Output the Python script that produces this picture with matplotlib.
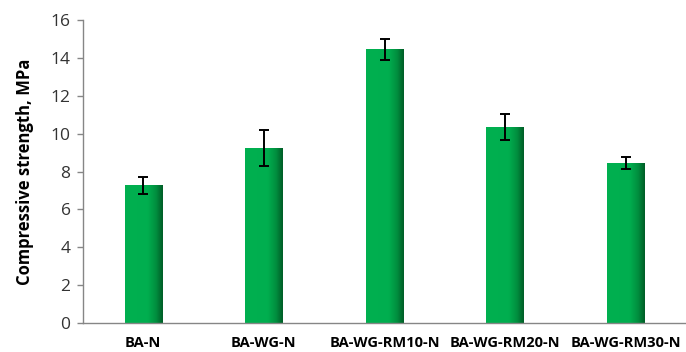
import numpy as np
import matplotlib.pyplot as plt
from matplotlib.colors import LinearSegmentedColormap

categories = ['BA-N', 'BA-WG-N', 'BA-WG-RM10-N', 'BA-WG-RM20-N', 'BA-WG-RM30-N']
strength = [7.27, 9.26, 14.45, 10.35, 8.45]
err = [0.43, 0.96, 0.56, 0.69, 0.33]
yticks = [0, 2, 4, 6, 8, 10, 12, 14, 16]

plt.rcParams['font.family'] = ['Open Sans', 'DejaVu Sans']

fig = plt.figure(figsize=(6.86, 3.52), dpi=100)
ax = fig.add_axes([0.121, 0.082, 0.879, 0.861])

x = np.arange(len(categories))
bars = ax.bar(x, strength, width=0.31, color='#00B050', zorder=2)

# shade each bar: flat green then darker toward the right edge
cmap = LinearSegmentedColormap.from_list('g', [(0, '#00B050'), (0.6, '#00AE4F'),
                                               (0.82, '#008F3F'), (1, '#005E27')])
grad = np.linspace(0, 1, 100).reshape(1, -1)
for b in bars:
    im = ax.imshow(grad, cmap=cmap, aspect='auto', zorder=2,
                   extent=[b.get_x(), b.get_x() + b.get_width(), 0, b.get_height()])
    im.set_clip_path(b)

ax.errorbar(x, strength, yerr=err, fmt='none', ecolor='black', elinewidth=1.4,
            capsize=3.5, capthick=1.4, zorder=3)

ax.set_xlim(-0.5, len(categories) - 0.5)
ax.set_ylim(0, 16)
ax.set_yticks(yticks)
ax.set_xticks(x)
ax.set_xticklabels(categories, fontweight='bold', fontsize=10.5)
ax.tick_params(axis='x', length=0, pad=9)
ax.tick_params(axis='y', length=4, width=1, color='#868686', labelsize=12.5,
               labelcolor='#333333', pad=5)
ax.set_ylabel('Compressive strength, MPa', fontweight='bold', fontsize=12, labelpad=12)

for s in ['top', 'right']:
    ax.spines[s].set_visible(False)
for s in ['left', 'bottom']:
    ax.spines[s].set_color('#868686')
    ax.spines[s].set_linewidth(1)

fig.savefig('out.png', dpi=100)
